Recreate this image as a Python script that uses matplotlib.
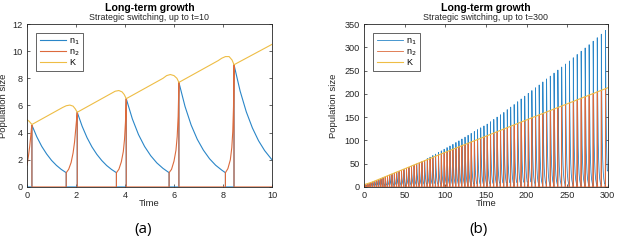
import matplotlib
matplotlib.use('Agg')
import matplotlib.pyplot as plt

plt.rcParams['font.family'] = ['Liberation Sans', 'DejaVu Sans']

C_N1 = '#2a86c8'
C_N2 = '#dc6a3c'
C_K = '#eebd45'
AX_COL = '#262626'

# ---- panel (a): up to t=10 ----
a_n1_t = [0, 0.2, 0.2, 0.4, 0.6, 0.8, 1.0, 1.2, 1.4, 1.6, 1.6,
          2.05, 2.05, 2.25, 2.45, 2.65, 2.85, 3.05, 3.25, 3.45, 3.65, 3.65,
          4.05, 4.05, 4.3, 4.55, 4.8, 5.05, 5.3, 5.55, 5.8, 5.8,
          6.2, 6.2, 6.45, 6.7, 6.95, 7.2, 7.45, 7.7, 7.95, 8.1, 8.1,
          8.45, 8.45, 8.7, 8.95, 9.2, 9.45, 9.7, 10.0]
a_n1 = [0, 0, 4.55, 3.69, 2.99, 2.43, 1.96, 1.59, 1.29, 1.05, 0,
        0, 5.5, 4.47, 3.63, 2.95, 2.40, 1.95, 1.58, 1.29, 1.05, 0,
        0, 6.5, 5.01, 3.86, 2.98, 2.30, 1.77, 1.37, 1.05, 0,
        0, 7.7, 5.93, 4.56, 3.51, 2.71, 2.08, 1.60, 1.24, 1.05, 0,
        0, 9.0, 7.06, 5.54, 4.35, 3.41, 2.68, 2.0]

a_n2_t = [0, 0.06, 0.11, 0.15, 0.18, 0.2, 0.2,
          1.6, 1.6, 1.7, 1.8, 1.88, 1.94, 1.99, 2.03, 2.05, 2.05,
          3.65, 3.65, 3.75, 3.85, 3.93, 3.98, 4.02, 4.04, 4.05, 4.05,
          5.8, 5.8, 5.9, 6.0, 6.08, 6.13, 6.17, 6.19, 6.2, 6.2,
          8.1, 8.1, 8.2, 8.3, 8.36, 8.4, 8.43, 8.44, 8.45, 8.45,
          10.0]
a_n2 = [1.6, 2.3, 3.0, 3.7, 4.3, 4.55, 0,
        0, 1.05, 1.3, 1.8, 2.5, 3.3, 4.3, 5.1, 5.5, 0,
        0, 1.05, 1.3, 1.85, 2.6, 3.5, 4.8, 5.9, 6.5, 0,
        0, 1.05, 1.3, 1.9, 2.7, 3.7, 5.2, 6.8, 7.7, 0,
        0, 1.05, 1.35, 2.0, 2.9, 4.1, 5.9, 7.8, 9.0, 0,
        0]

a_K_t = [0, 0.08, 0.2, 1.45, 1.6, 1.75, 1.88, 1.97, 2.05,
         3.45, 3.6, 3.75, 3.88, 3.97, 4.05,
         5.55, 5.7, 5.85, 6.0, 6.12, 6.2,
         7.8, 7.95, 8.1, 8.25, 8.37, 8.45, 10.0]
a_K = [4.95, 4.85, 4.6, 5.85, 5.98, 6.03, 5.95, 5.75, 5.5,
       6.9, 7.05, 7.1, 7.0, 6.8, 6.5,
       8.0, 8.2, 8.28, 8.2, 8.0, 7.7,
       9.3, 9.48, 9.6, 9.6, 9.35, 9.0, 10.5]

# ---- panel (b): up to t=300 ----
b_switch = [0.2, 2.05, 4.05, 6.2, 8.45, 10.8, 13.2, 15.7, 18.2, 20.8,
            23.4, 26.1, 28.8, 31.6, 34.4, 37.3, 40.2, 43.1, 46.1, 49.1,
            52.2, 55.3, 58.4, 61.6, 64.8, 68.0, 71.3, 74.6, 77.9, 81.3,
            84.7, 88.1, 91.6, 95.1, 98.6, 102.2, 105.8, 109.4, 113.1, 116.8,
            120.5, 124.3, 128.1, 131.9, 135.8, 139.7, 143.6, 147.6, 151.6, 155.6,
            159.7, 163.8, 167.9, 172.1, 176.3, 180.5, 184.8, 189.1, 193.4, 197.8,
            202.2, 206.6, 211.1, 215.6, 220.1, 224.7, 229.3, 233.9, 238.6, 243.3,
            248.0, 252.8, 257.6, 262.4, 267.3, 272.2, 277.1, 282.1, 287.1, 292.1,
            297.2]
b_n1_peak = [4.55, 5.5, 6.5, 7.7, 9.0, 10.6, 12.2, 14.0, 15.8, 17.7,
             19.6, 21.5, 23.4, 25.4, 27.4, 29.5, 31.5, 33.6, 35.7, 37.8,
             40.0, 42.2, 44.5, 46.8, 49.2, 51.6, 54.2, 57.0, 61.0, 64.0,
             67.5, 70.5, 74.0, 77.5, 81.0, 84.5, 88.0, 91.5, 95.5, 99.0,
             103.0, 107.0, 111.0, 115.0, 119.0, 123.0, 127.0, 131.0, 135.0, 140.0,
             145.0, 150.0, 155.0, 160.0, 166.0, 171.5, 177.0, 183.0, 189.0, 195.0,
             201.0, 207.0, 213.0, 219.0, 225.5, 232.0, 238.0, 244.5, 251.0, 257.5,
             264.0, 270.5, 277.5, 284.5, 291.5, 298.5, 305.5, 313.0, 320.5, 328.0,
             336.0]
b_n2_peak = [4.55, 5.5, 6.5, 7.7, 9.0, 10.6, 12.2, 14.0, 15.8, 17.7,
             19.6, 21.5, 23.4, 25.4, 27.4, 29.5, 31.5, 33.6, 35.7, 37.8,
             40.0, 42.2, 44.5, 46.8, 49.2, 51.6, 54.2, 57.0, 59.1, 61.5,
             63.9, 66.2, 68.7, 71.1, 73.5, 76.0, 78.5, 81.0, 83.6, 86.2,
             88.7, 91.4, 94.0, 96.7, 99.4, 102.1, 104.8, 107.6, 110.4, 113.1,
             116.0, 118.8, 121.7, 124.6, 127.5, 130.4, 133.4, 136.4, 139.4, 142.5,
             145.5, 148.6, 151.7, 154.8, 158.0, 161.2, 164.4, 167.6, 170.8, 174.1,
             177.4, 180.7, 184.0, 187.4, 190.8, 194.2, 197.6, 201.1, 204.5, 208.0,
             211.6]
b_K_t = [0, 10, 50, 100, 150, 200, 250, 300]
b_K = [4.9, 10.5, 39.0, 74.5, 109.0, 144.0, 178.5, 213.0]

# shape of one cycle: n1 decay after a switch, n2 growth before it
decay_dt = [0, 0.25, 0.5, 0.8, 1.2, 1.7, 2.3, 3.0, 4.0]
decay_frac = [1.0, 0.78, 0.61, 0.45, 0.30, 0.18, 0.10, 0.05, 0.018]
grow_dt = [-0.45, -0.35, -0.25, -0.17, -0.11, -0.06, -0.02, 0.0]
grow_frac = [0.0, 0.05, 0.14, 0.28, 0.45, 0.65, 0.85, 1.0]
LOW = 1.05


def build_b():
    n = len(b_switch)
    bt, bv = [0], [0]
    ot, ov = [], []
    for i in range(n):
        p = b_switch[i]
        h = b_n1_peak[i]
        last = i + 1 >= n
        s = 300 if last else b_switch[i + 1] + grow_dt[0]
        for dt, f in zip(grow_dt, grow_frac):
            t = p + dt
            if t >= 0:
                ot.append(t)
                ov.append(LOW + (b_n2_peak[i] - LOW) * f)
        ot += [p, s]
        ov += [0, 0]
        bt += [p, p]
        bv += [0, h]
        for dt, f in zip(decay_dt[1:], decay_frac[1:]):
            t = p + dt
            if t >= s:
                break
            bt.append(t)
            bv.append(LOW + (h - LOW) * f)
        bt.append(s)
        bv.append(bv[-1])
        if not last:
            bt.append(s)
            bv.append(0)
    return bt, bv, ot, ov


def style_axes(ax, xlim, ylim, xticks, yticks, title_sub, ylab_x):
    ax.set_xlim(*xlim)
    ax.set_ylim(*ylim)
    ax.set_xticks(xticks)
    ax.set_yticks(yticks)
    ax.tick_params(direction='in', top=True, right=True, length=2.5, width=0.5,
                   labelsize=6.6, colors=AX_COL, pad=3)
    for sp in ax.spines.values():
        sp.set_color(AX_COL)
        sp.set_linewidth(0.6)
    ax.set_xlabel('Time', fontsize=6.8, color=AX_COL)
    ax.set_ylabel('Population size', fontsize=6.8, color=AX_COL)
    ax.xaxis.set_label_coords(0.5, -0.075)
    ax.yaxis.set_label_coords(ylab_x, 0.5)
    ax.text(0.5, 1.101, 'Long-term growth', transform=ax.transAxes, ha='center',
            va='center', fontsize=7.6, fontweight='bold', color='black')
    ax.text(0.5, 1.04, title_sub, transform=ax.transAxes, ha='center',
            va='center', fontsize=6.4, color=AX_COL)
    leg = ax.legend(loc='upper left', bbox_to_anchor=(0.037, 0.947), borderaxespad=0,
                    fontsize=6.5, handlelength=2.9, handletextpad=0.35,
                    labelspacing=0.05, borderpad=0.4, fancybox=False,
                    framealpha=1)
    leg.get_frame().set_edgecolor(AX_COL)
    leg.get_frame().set_linewidth(0.5)


fig = plt.figure(figsize=(6.17, 2.40), dpi=100)
ax1 = fig.add_axes([0.0438, 0.221, 0.397, 0.679])
ax2 = fig.add_axes([0.590, 0.221, 0.395, 0.679])

lw = 0.8
ax1.plot(a_n1_t, a_n1, color=C_N1, lw=lw, label='n$_1$')
ax1.plot(a_n2_t, a_n2, color=C_N2, lw=lw, label='n$_2$')
ax1.plot(a_K_t, a_K, color=C_K, lw=lw, label='K')
style_axes(ax1, (0, 10), (0, 12), range(0, 11, 2), range(0, 13, 2),
           'Strategic switching, up to t=10', -0.078)

bt, bv, ot, ov = build_b()
ax2.plot(bt, bv, color=C_N1, lw=0.6, label='n$_1$')
ax2.plot(ot, ov, color=C_N2, lw=0.6, label='n$_2$')
ax2.plot(b_K_t, b_K, color=C_K, lw=lw, label='K')
style_axes(ax2, (0, 300), (0, 350), range(0, 301, 50), range(0, 351, 50),
           'Strategic switching, up to t=300', -0.107)

fig.text(143 / 617, 1 - 229 / 240, '(a)', ha='center', va='center', fontsize=11,
         family=['Open Sans', 'DejaVu Sans'])
fig.text(478 / 617, 1 - 229 / 240, '(b)', ha='center', va='center', fontsize=11,
         family=['Open Sans', 'DejaVu Sans'])

fig.savefig('out.png', dpi=100)
